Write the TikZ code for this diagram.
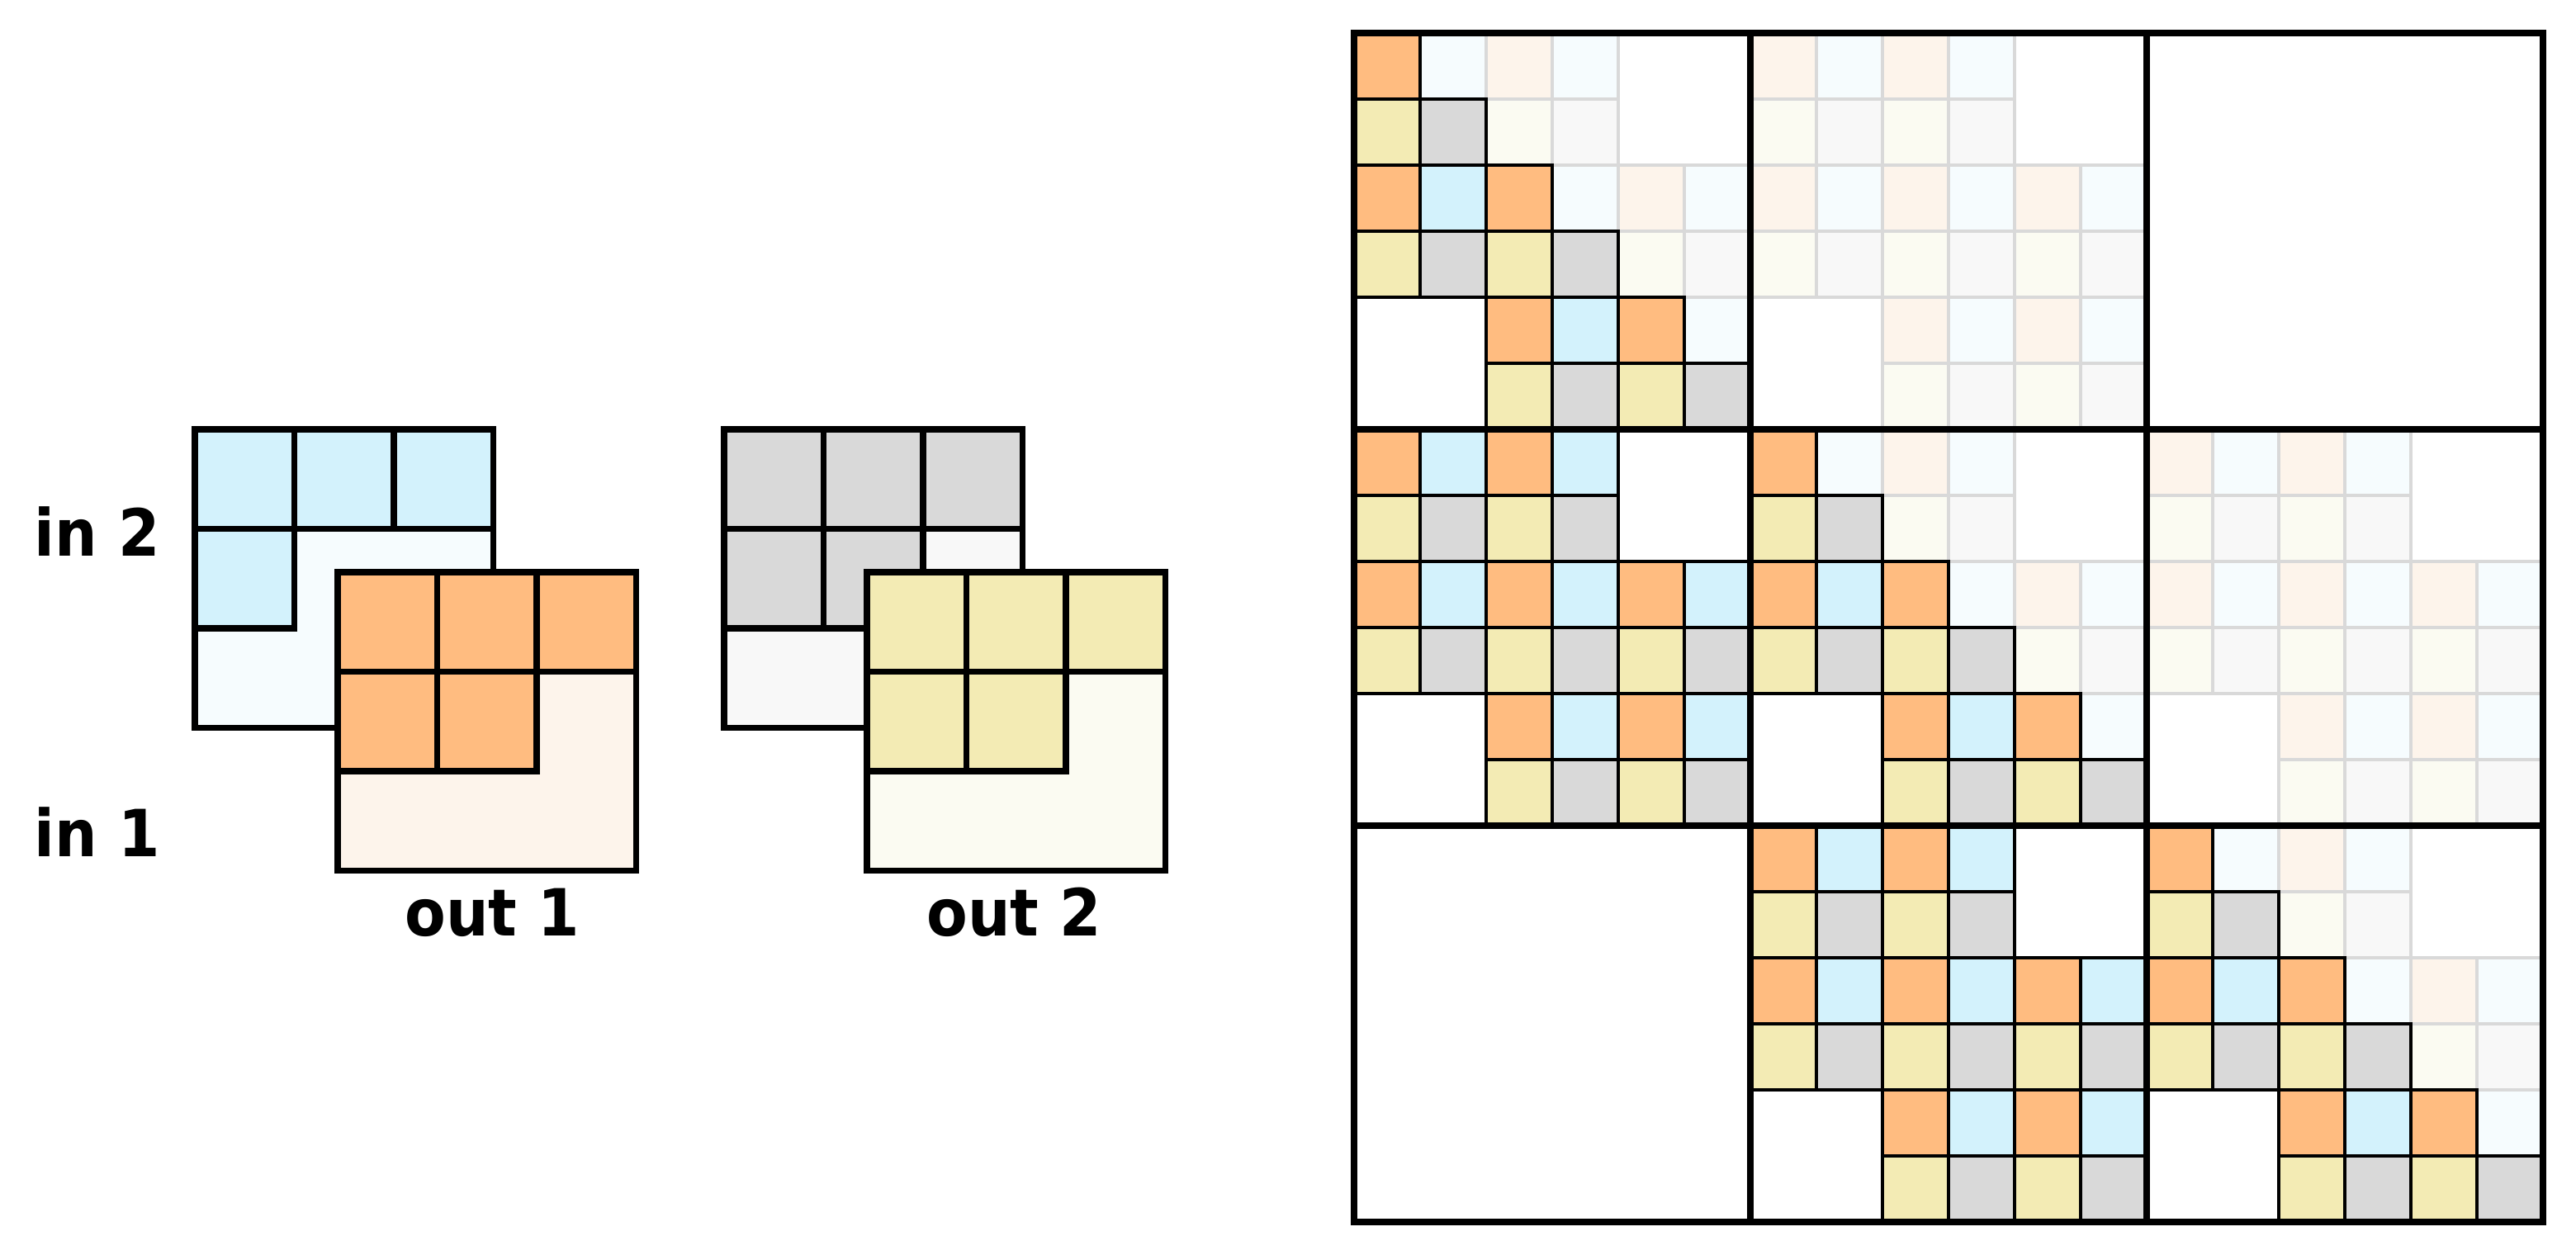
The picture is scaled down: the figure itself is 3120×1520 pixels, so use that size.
\documentclass[tikz,border=0pt]{standalone}
\usepackage{fontspec}
\setmainfont{DejaVu Sans}[FakeStretch=0.92]
\definecolor{c0}{HTML}{FFBC80}
\definecolor{c1}{HTML}{D3F2FC}
\definecolor{c2}{HTML}{F3EBB4}
\definecolor{c3}{HTML}{D9D9D9}
\definecolor{f0}{HTML}{FDF4EB}
\definecolor{f1}{HTML}{F6FCFE}
\definecolor{f2}{HTML}{FBFBF2}
\definecolor{f3}{HTML}{F8F8F8}
\definecolor{faintline}{HTML}{D9D9D9}
\begin{document}
\begin{tikzpicture}[x=0.0125cm,y=-0.0125cm,
  strongcell/.style={draw=black,line width=0.05cm},
  faintcell/.style={draw=faintline,line width=0.05cm},
  thickline/.style={draw=black,line width=0.1cm},
  smallline/.style={draw=black,line width=0.096cm},
  lab/.style={font=\fontsize{28}{30}\selectfont\bfseries,inner sep=0pt}]
\useasboundingbox[fill=white] (0,0) rectangle (3120,1520);
% big grid
\foreach \pass in {0,1}{
 \foreach \bi in {0,1,2}{
  \foreach \bj in {0,1,2}{
   \foreach \r in {0,...,5}{
    \foreach \c in {0,...,5}{
      \pgfmathtruncatemacro\ti{\r/2}
      \pgfmathtruncatemacro\tj{\c/2}
      \pgfmathtruncatemacro\band{(abs(\ti-\tj)<2) ? 1 : 0}
      \pgfmathtruncatemacro\d{\bi-\bj}
      \pgfmathtruncatemacro\st{(\d==1) ? 1 : ((\d==0) ? ((\c>\r) ? 0 : 1) : 0)}
      \pgfmathtruncatemacro\fa{(\d==-1) ? 1 : ((\d==0) ? ((\c>\r) ? 1 : 0) : 0)}
      \pgfmathtruncatemacro\k{2*mod(\r,2)+mod(\c,2)}
      \pgfmathsetmacro\X{1640+80*(6*\bj+\c)}
      \pgfmathsetmacro\Y{40+80*(6*\bi+\r)}
      \ifnum\band=1
        \ifnum\pass=0 \ifnum\fa=1 \path[faintcell,fill=f\k] (\X,\Y) rectangle ++(80,80); \fi\fi
        \ifnum\pass=1 \ifnum\st=1 \path[strongcell,fill=c\k] (\X,\Y) rectangle ++(80,80); \fi\fi
      \fi
    }}}}}
\path[thickline] (1640,40) rectangle (3080,1480);
\foreach \v in {2120,2600} \path[thickline] (\v,40) -- (\v,1480);
\foreach \h in {520,1000} \path[thickline] (1640,\h) -- (3080,\h);
% in 2 (back, cyan)
\def\cs{120.5}
\path[smallline,fill=f1] (236,520) rectangle ++(361.5,361.5);
\foreach \i/\j in {0/0,0/1,0/2,1/0}
  \path[smallline,fill=c1] ({236+\cs*\j},{520+\cs*\i}) rectangle ++(\cs,\cs);
% out 1 (front, orange)
\path[smallline,fill=f0] (409,693) rectangle ++(361.5,361.5);
\foreach \i/\j in {0/0,0/1,0/2,1/0,1/1}
  \path[smallline,fill=c0] ({409+\cs*\j},{693+\cs*\i}) rectangle ++(\cs,\cs);
% back gray
\path[smallline,fill=f3] (877,520) rectangle ++(361.5,361.5);
\foreach \i/\j in {0/0,0/1,0/2,1/0,1/1}
  \path[smallline,fill=c3] ({877+\cs*\j},{520+\cs*\i}) rectangle ++(\cs,\cs);
% out 2 (front, yellow)
\path[smallline,fill=f2] (1050,693) rectangle ++(361.5,361.5);
\foreach \i/\j in {0/0,0/1,0/2,1/0,1/1}
  \path[smallline,fill=c2] ({1050+\cs*\j},{693+\cs*\i}) rectangle ++(\cs,\cs);
% labels
\node[lab,anchor=base west] (in2) at (41,673) {in 2};
\node[lab,anchor=base west] (in1) at (41,1037) {in 1};
\node[lab,anchor=base west] (out1) at (490,1133) {out 1};
\node[lab,anchor=base west] (out2) at (1122,1133) {out 2};
\end{tikzpicture}
\end{document}
